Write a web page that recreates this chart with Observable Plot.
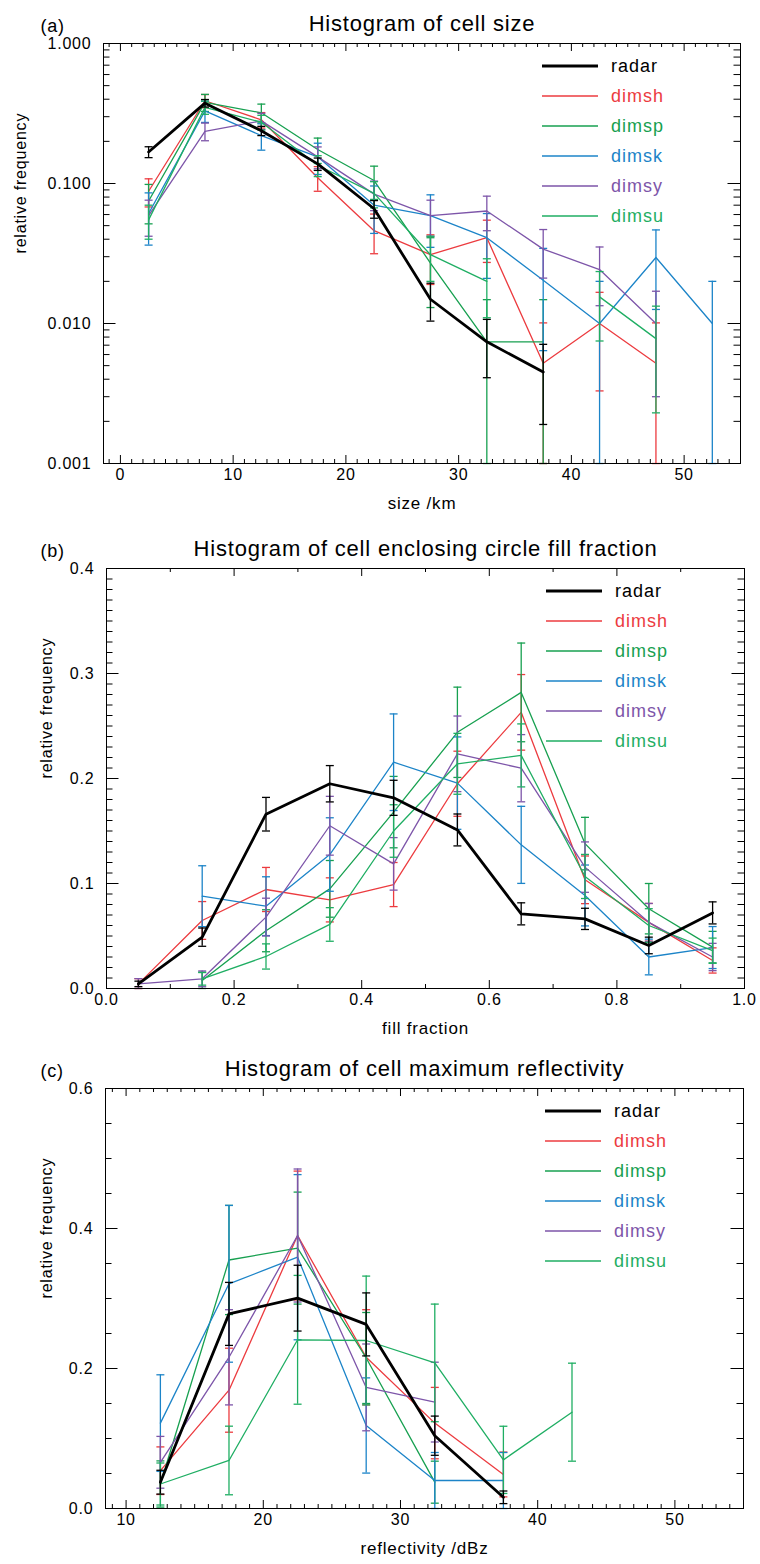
<!DOCTYPE html>
<html>
<head>
<meta charset="utf-8">
<script src="https://cdn.jsdelivr.net/npm/d3@7"></script>
<script src="https://cdn.jsdelivr.net/npm/@observablehq/plot@0.6"></script>
<style>
html, body { margin: 0; padding: 0; background: #fff; }
#chart svg { display: block; }
</style>
</head>
<body>
<div id="chart"></div>
<script>
// ---------- series ----------
const seriesNames = ["radar", "dimsh", "dimsp", "dimsk", "dimsy", "dimsu"];
const seriesColors = ["#000000", "#ec3b3f", "#17a050", "#1c84c8", "#7d55a9", "#1fae63"];

// ---------- (a) cell size ----------
const sizeBins = [2.5, 7.5, 12.5, 17.5, 22.5, 27.5, 32.5, 37.5, 42.5, 47.5, 52.5];
const sizeFreq = [
  [0.168, 0.375, 0.238, 0.138, 0.066, 0.0149, 0.0074, 0.0045, null, null, null],
  [0.088, 0.39, 0.285, 0.11, 0.046, 0.031, 0.041, 0.0052, 0.010, 0.0052, null],
  [0.075, 0.38, 0.32, 0.175, 0.105, 0.027, 0.0074, 0.0074, null, null, null],
  [0.061, 0.33, 0.22, 0.155, 0.07, 0.059, 0.041, 0.0204, 0.01, 0.0296, 0.01],
  [0.059, 0.236, 0.28, 0.155, 0.084, 0.059, 0.0636, 0.034, 0.0243, 0.01, null],
  [0.055, 0.35, 0.274, 0.135, 0.085, 0.031, 0.02, null, 0.0155, 0.0078, null]
];
const sizeErr = [
  [0.015, 0.023, 0.018, 0.014, 0.0095, 0.0045, 0.0033, 0.0026, null, null, null],
  [0.02, 0.042, 0.036, 0.022, 0.0145, 0.012, 0.0137, 0.0049, 0.0067, 0.0049, null],
  [0.0235, 0.053, 0.049, 0.036, 0.028, 0.014, 0.0074, 0.0074, null, null, null],
  [0.0247, 0.057, 0.047, 0.039, 0.026, 0.024, 0.02, 0.014, 0.01, 0.017, 0.01],
  [0.017, 0.034, 0.037, 0.0275, 0.02, 0.017, 0.0176, 0.0129, 0.0109, 0.007, null],
  [0.015, 0.038, 0.033, 0.023, 0.018, 0.011, 0.009, null, 0.008, 0.0055, null]
];
const sizeTicks = [0, 10, 20, 30, 40, 50];
const sizeTickLabels = ["0", "10", "20", "30", "40", "50"];
const sizeYTicks = [0.001, 0.01, 0.1, 1];
const sizeYTickLabels = ["0.001", "0.010", "0.100", "1.000"];

// ---------- (b) fill fraction ----------
const fracBins = [0.05, 0.15, 0.25, 0.35, 0.45, 0.55, 0.65, 0.75, 0.85, 0.95];
const fracFreq = [
  [0.0044, 0.0489, 0.166, 0.195, 0.1816, 0.151, 0.0711, 0.0663, 0.041, 0.072],
  [0.0044, 0.0648, 0.0943, 0.0844, 0.099, 0.195, 0.263, 0.1035, 0.063, 0.0267],
  [null, 0.0076, 0.055, 0.0949, 0.168, 0.244, 0.282, 0.138, 0.076, 0.0394],
  [null, 0.0879, 0.0784, 0.1276, 0.2155, 0.1956, 0.1368, 0.0886, 0.030, 0.039],
  [0.0044, 0.0092, 0.068, 0.155, 0.1187, 0.2235, 0.2098, 0.1156, 0.063, 0.03],
  [null, 0.0092, 0.0305, 0.061, 0.150, 0.214, 0.222, 0.1067, 0.06, 0.036]
];
const fracErr = [
  [0.0026, 0.0087, 0.016, 0.0173, 0.0167, 0.0152, 0.0105, 0.0101, 0.0079, 0.0105],
  [0.005, 0.018, 0.021, 0.021, 0.021, 0.031, 0.036, 0.0227, 0.018, 0.012],
  [null, 0.008, 0.02, 0.027, 0.034, 0.043, 0.047, 0.025, 0.024, 0.015],
  [null, 0.029, 0.028, 0.035, 0.046, 0.044, 0.0367, 0.029, 0.017, 0.02],
  [0.005, 0.0075, 0.018, 0.028, 0.025, 0.036, 0.032, 0.024, 0.018, 0.013],
  [null, 0.006, 0.012, 0.016, 0.025, 0.029, 0.03, 0.021, 0.016, 0.012]
];
const fracTicks = [0, 0.2, 0.4, 0.6, 0.8, 1.0];
const fracTickLabels = ["0.0", "0.2", "0.4", "0.6", "0.8", "1.0"];
const fracYTicks = [0, 0.1, 0.2, 0.3, 0.4];
const fracYTickLabels = ["0.0", "0.1", "0.2", "0.3", "0.4"];

// ---------- (c) maximum reflectivity ----------
const reflBins = [12.5, 17.5, 22.5, 27.5, 32.5, 37.5, 42.5];
const reflFreq = [
  [0.0376, 0.278, 0.3005, 0.263, 0.104, 0.016, null],
  [0.054, 0.169, 0.39, 0.216, 0.122, 0.0486, null],
  [0.035, 0.355, 0.372, 0.215, 0.0376, null, null],
  [0.122, 0.321, 0.359, 0.1186, 0.04, 0.04, null],
  [0.066, 0.216, 0.39, 0.173, 0.152, null, null],
  [0.035, 0.0686, 0.241, 0.24, 0.208, 0.0695, 0.1376]
];
const reflErr = [
  [0.017, 0.045, 0.047, 0.045, 0.028, 0.009, null],
  [0.034, 0.06, 0.092, 0.068, 0.051, 0.032, null],
  [0.033, 0.078, 0.08, 0.065, 0.03, null, null],
  [0.069, 0.112, 0.118, 0.068, 0.04, 0.04, null],
  [0.037, 0.068, 0.095, 0.062, 0.057, null, null],
  [0.03, 0.049, 0.092, 0.092, 0.084, 0.048, 0.07]
];
const reflTicks = [10, 20, 30, 40, 50];
const reflTickLabels = ["10", "20", "30", "40", "50"];
const reflYTicks = [0, 0.2, 0.4, 0.6];
const reflYTickLabels = ["0.0", "0.2", "0.4", "0.6"];

// ---------- helpers ----------
const FONT = "'Liberation Sans', Arial, Helvetica, sans-serif";
const capSymbol = {
  draw(context, size) {
    const w = Math.sqrt(size / Math.PI);
    context.moveTo(-w, 0);
    context.lineTo(w, 0);
  }
};

function buildRows(bins, freq, err, floor) {
  const out = [];
  seriesNames.forEach((s, k) => {
    bins.forEach((x, i) => {
      const v = freq[k][i], e = err[k][i];
      if (v == null) {
        out.push({series: s, x, v: NaN, lo: NaN, hi: NaN});
      } else {
        out.push({series: s, x, v, lo: Math.max(v - e, floor), hi: v + e});
      }
    });
  });
  return out;
}

function legendMark() {
  return (index, scales, values, dims) => {
    const g = d3.create("svg:g")
      .attr("font-size", 18)
      .attr("font-family", FONT)
      .attr("text-anchor", "start")
      .style("letter-spacing", "1px");
    const right = dims.width - dims.marginRight, top = dims.marginTop;
    seriesNames.forEach((name, i) => {
      const y = top + 23 + 30 * i;
      g.append("line")
        .attr("x1", right - 198).attr("x2", right - 142)
        .attr("y1", y).attr("y2", y)
        .attr("stroke", seriesColors[i])
        .attr("stroke-width", i === 0 ? 2.8 : 1.3);
      g.append("text")
        .attr("x", right - 129).attr("y", y).attr("dy", "0.35em")
        .attr("text-anchor", "start")
        .attr("fill", seriesColors[i])
        .text(name);
    });
    return g.node();
  };
}

function panel(cfg) {
  const {height, mt, mb, ml, mr, xDomain, yType, yDomain, bins, freq, err,
    xTicks, xLabels, xMinor, yTicks, yLabels, yMinor, tag, title, xTitle, yTitleDx} = cfg;
  const width = 760;
  const W = width - ml - mr, H = height - mt - mb;
  const floor = yType === "log" ? yDomain[0] : 0;
  const rows = buildRows(bins, freq, err, floor);
  const marks = [];

  // ticks (inward, on all four sides)
  const tk = (vals, len) => [
    Plot.ruleX(vals, {x: d => d, insetTop: H - len, stroke: "black", strokeWidth: 1}),
    Plot.ruleX(vals, {x: d => d, insetBottom: H - len, stroke: "black", strokeWidth: 1})
  ];
  const tky = (vals, len) => [
    Plot.ruleY(vals, {y: d => d, insetRight: W - len, stroke: "black", strokeWidth: 1}),
    Plot.ruleY(vals, {y: d => d, insetLeft: W - len, stroke: "black", strokeWidth: 1})
  ];
  marks.push(...tk(xTicks, 8), ...tk(xMinor, 4), ...tky(yTicks, 12.5), ...tky(yMinor, 6.5));

  // data
  const order = [1, 2, 3, 4, 5, 0];
  for (const k of order) {
    const name = seriesNames[k], color = seriesColors[k];
    const d = rows.filter(r => r.series === name);
    marks.push(
      Plot.ruleX(d, {x: "x", y1: "lo", y2: "hi", stroke: color, strokeWidth: 1.3}),
      Plot.dot(d, {x: "x", y: "lo", symbol: capSymbol, r: 4, fill: "none", stroke: color, strokeWidth: 1.3}),
      Plot.dot(d, {x: "x", y: "hi", symbol: capSymbol, r: 4, fill: "none", stroke: color, strokeWidth: 1.3}),
      Plot.line(d, {x: "x", y: "v", stroke: color, strokeWidth: k === 0 ? 2.8 : 1.3})
    );
  }

  marks.push(Plot.frame({stroke: "black", strokeWidth: 1}));

  // tick labels
  marks.push(
    Plot.text(xLabels, {x: (d, i) => xTicks[i], text: d => d, frameAnchor: "bottom", dy: 16.5, fontSize: 16, fill: "black"}),
    Plot.text(yLabels, {y: (d, i) => yTicks[i], text: d => d, frameAnchor: "left", textAnchor: "end", dx: -12, fontSize: 16, fill: "black"})
  );
  // axis titles
  marks.push(
    Plot.text([xTitle], {text: d => d, frameAnchor: "bottom", dy: 45, fontSize: 17, fill: "black"}),
    Plot.text(["relative frequency"], {text: d => d, frameAnchor: "left", rotate: -90, dx: yTitleDx, fontSize: 16, fill: "black"})
  );
  // titles
  marks.push(
    Plot.text([title], {text: d => d, frameAnchor: "top", lineAnchor: "bottom", dy: -13, fontSize: 22, fill: "black"}),
    Plot.text([tag], {text: d => d, frameAnchor: "top-left", textAnchor: "start", lineAnchor: "bottom", dx: 40 - ml, dy: -12, fontSize: 18, fill: "black"})
  );
  marks.push(legendMark());

  return Plot.plot({
    width, height,
    marginTop: mt, marginBottom: mb, marginLeft: ml, marginRight: mr,
    x: {type: "linear", domain: xDomain, axis: null},
    y: {type: yType, domain: yDomain, axis: null},
    style: {fontFamily: FONT, background: "white", color: "black", overflow: "visible", letterSpacing: "0.8px"},
    marks
  });
}

const logMinor = [0.001, 0.01, 0.1].flatMap(dec => d3.range(2, 10).map(k => k * dec));

const chart = document.getElementById("chart");
chart.appendChild(panel({
  height: 520, mt: 43, mb: 57, ml: 103, mr: 20,
  xDomain: [-1.5, 55], yType: "log", yDomain: [0.001, 1],
  bins: sizeBins, freq: sizeFreq, err: sizeErr,
  xTicks: sizeTicks, xLabels: sizeTickLabels,
  xMinor: d3.range(-1, 56).filter(v => v % 10 !== 0),
  yTicks: sizeYTicks, yLabels: sizeYTickLabels, yMinor: logMinor,
  tag: "(a)", title: "Histogram of cell size", xTitle: "size /km", yTitleDx: 20 - 103
}));
chart.appendChild(panel({
  height: 520, mt: 48, mb: 52, ml: 106, mr: 16,
  xDomain: [0, 1], yType: "linear", yDomain: [0, 0.4],
  bins: fracBins, freq: fracFreq, err: fracErr,
  xTicks: fracTicks, xLabels: fracTickLabels,
  xMinor: d3.range(1, 10, 2).map(v => v / 10),
  yTicks: fracYTicks, yLabels: fracYTickLabels,
  yMinor: d3.range(0, 41).filter(v => v % 10 !== 0).map(v => v / 100),
  tag: "(b)", title: "Histogram of cell enclosing circle fill fraction", xTitle: "fill fraction", yTitleDx: 46 - 106
}));
chart.appendChild(panel({
  height: 524, mt: 48, mb: 56, ml: 105, mr: 17,
  xDomain: [8.5, 55], yType: "linear", yDomain: [0, 0.6],
  bins: reflBins, freq: reflFreq, err: reflErr,
  xTicks: reflTicks, xLabels: reflTickLabels,
  xMinor: d3.range(9, 56).filter(v => v % 10 !== 0),
  yTicks: reflYTicks, yLabels: reflYTickLabels,
  yMinor: d3.range(0, 13).filter(v => v % 4 !== 0).map(v => v * 0.05),
  tag: "(c)", title: "Histogram of cell maximum reflectivity", xTitle: "reflectivity /dBz", yTitleDx: 46 - 105
}));
</script>
</body>
</html>
